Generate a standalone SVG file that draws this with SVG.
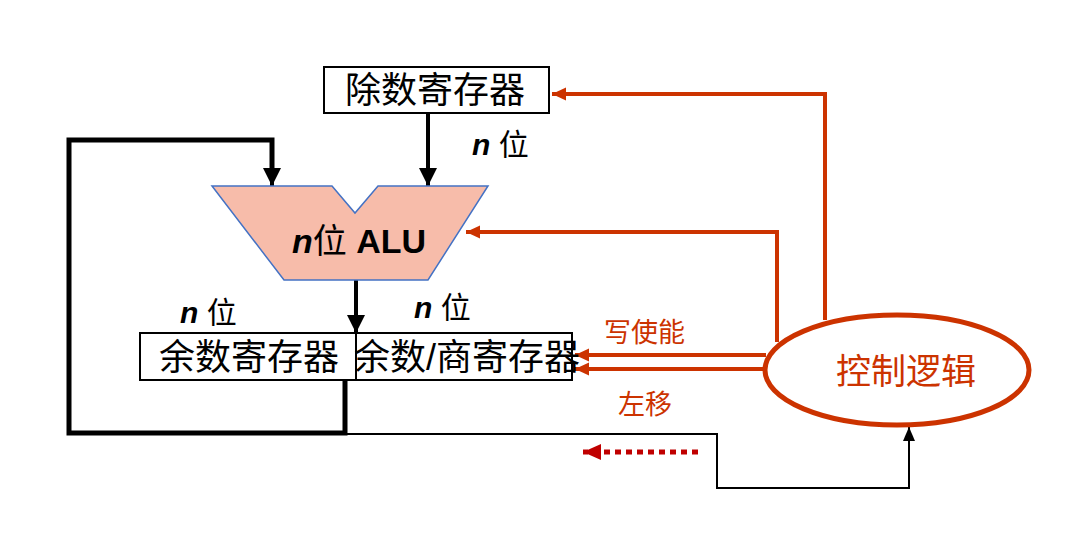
<svg xmlns="http://www.w3.org/2000/svg" width="1074" height="552" viewBox="0 0 1074 552">
<style>
.box{fill:#fff;stroke:#000;stroke-width:2}
.cjk{font-family:"Liberation Sans","Noto Sans CJK SC",sans-serif}
.blk{fill:none;stroke:#000;stroke-linejoin:miter}
.red{fill:none;stroke:#CC3300;stroke-width:4}
.lbl{font-family:"Liberation Sans","Noto Sans CJK SC",sans-serif;font-size:30px;fill:#000}
.rlbl{font-family:"Liberation Sans","Noto Sans CJK SC",sans-serif;font-size:27px;fill:#CC3300}
</style>
<defs>
<marker id="ab" markerUnits="userSpaceOnUse" markerWidth="20" markerHeight="20" refX="18" refY="9" orient="auto"><path d="M0,0 L18,9 L0,18 Z" fill="#000"/></marker>
<marker id="abs" markerUnits="userSpaceOnUse" markerWidth="16" markerHeight="14" refX="14" refY="6" orient="auto"><path d="M0,0 L14,6 L0,12 Z" fill="#000"/></marker>
<marker id="ar" markerUnits="userSpaceOnUse" markerWidth="16" markerHeight="14" refX="14" refY="6.5" orient="auto"><path d="M0,0 L14,6.5 L0,13 Z" fill="#CC3300"/></marker>
<marker id="ad" markerUnits="userSpaceOnUse" markerWidth="20" markerHeight="18" refX="18" refY="8" orient="auto"><path d="M0,0 L18,8 L0,16 Z" fill="#C00000"/></marker>
</defs>

<g id="connectors">
<polyline class="blk" stroke-width="5" points="345,380 345,433 69,433 69,140 272,140 272,168"/>
<line x1="272" y1="140" x2="272" y2="186" stroke="#000" stroke-width="4" marker-end="url(#ab)"/>
<line x1="428" y1="113" x2="428" y2="186" stroke="#000" stroke-width="4" marker-end="url(#ab)"/>
<line x1="356" y1="280" x2="356" y2="333" stroke="#000" stroke-width="4" marker-end="url(#ab)"/>
<polyline class="blk" stroke-width="2" points="345,434 717,434 717,488 909,488 909,427" marker-end="url(#abs)"/>
<polyline class="red" points="825,320 825,94 552,94" marker-end="url(#ar)"/>
<polyline class="red" points="777,342 777,232 466,232" marker-end="url(#ar)"/>
<line class="red" x1="766" y1="355" x2="575" y2="355" marker-end="url(#ar)"/>
<line class="red" x1="764" y1="369" x2="575" y2="369" marker-end="url(#ar)"/>
<line x1="698" y1="452" x2="583" y2="452" stroke="#C00000" stroke-width="5" stroke-dasharray="6,5" marker-end="url(#ad)"/>
</g>

<g id="divisor">
<rect class="box" x="324" y="67" width="225" height="46"/>
<text class="cjk" x="435" y="103" font-size="36" text-anchor="middle">除数寄存器</text>
</g>
<text class="lbl" x="472" y="155"><tspan font-weight="bold" font-style="italic">n</tspan> 位</text>

<g id="alu">
<polygon points="212,186 332,186 355,213 378,186 488,186 428,280 284,280" fill="#F7BCAA" stroke="#4472C4" stroke-width="1.5"/>
<text x="292" y="253" font-family="'Liberation Sans','Noto Sans CJK SC',sans-serif" font-size="34" fill="#000"><tspan font-weight="bold" font-style="italic">n</tspan><tspan>位 </tspan><tspan font-weight="bold">ALU</tspan></text>
</g>

<text class="lbl" x="180" y="323"><tspan font-weight="bold" font-style="italic">n</tspan> 位</text>
<text class="lbl" x="414" y="318"><tspan font-weight="bold" font-style="italic">n</tspan> 位</text>

<g id="remainder">
<rect class="box" x="140" y="333" width="216" height="47"/>
<text class="cjk" x="249" y="370" font-size="36" text-anchor="middle">余数寄存器</text>
</g>

<g id="quotient">
<rect class="box" x="356" y="333" width="216" height="47"/>
<text class="cjk" x="467" y="370" font-size="36" text-anchor="middle">余数/商寄存器</text>
</g>

<text class="rlbl" x="604" y="342">写使能</text>
<text class="rlbl" x="618" y="414">左移</text>

<g id="control">
<ellipse cx="897" cy="370" rx="132" ry="55" fill="#fff" stroke="#CC3300" stroke-width="5"/>
<text class="cjk" x="906" y="384" font-size="35" fill="#CC3300" text-anchor="middle">控制逻辑</text>
</g>
</svg>
